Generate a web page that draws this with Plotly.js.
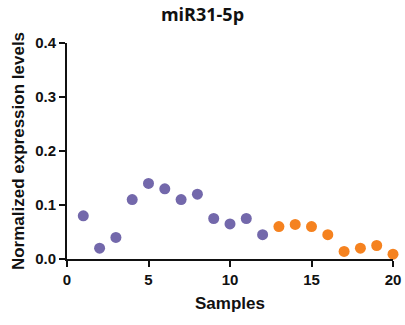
<!DOCTYPE html>
<html>
<head>
<meta charset="utf-8">
<script src="https://cdn.plot.ly/plotly-3.0.1.min.js"></script>
<style>html,body{margin:0;padding:0;background:#fff;}#chart{width:405px;height:325px;}</style>
</head>
<body>
<div id="chart"></div>
<script>
var samplesA = [1,2,3,4,5,6,7,8,9,10,11,12];
var valuesA = [0.080,0.020,0.040,0.110,0.140,0.130,0.110,0.120,0.075,0.065,0.075,0.045];
var samplesB = [13,14,15,16,17,18,19,20];
var valuesB = [0.060,0.064,0.060,0.045,0.014,0.020,0.025,0.009];
var xTicks = [0,5,10,15,20];
var yTicks = [0,0.1,0.2,0.3,0.4];
var yTickLabels = ['0.0','0.1','0.2','0.3','0.4'];

var arial = "'Liberation Sans', Arial, sans-serif";
var traces = [
  {x: samplesA, y: valuesA, type: 'scatter', mode: 'markers', cliponaxis: false,
   marker: {color: '#7368ab', size: 11}},
  {x: samplesB, y: valuesB, type: 'scatter', mode: 'markers', cliponaxis: false,
   marker: {color: '#f5821f', size: 11}}
];
var tickFont = {family: arial, size: 15, color: '#111', weight: 'bold'};
var layout = {
  width: 405, height: 325,
  margin: {l: 67, r: 12, t: 43, b: 66},
  paper_bgcolor: '#fff', plot_bgcolor: '#fff',
  showlegend: false,
  title: {text: '<b>miR31-5p</b>', x: 0.5, xanchor: 'center', y: 0.955, yanchor: 'middle',
          font: {family: "'Open Sans', sans-serif", size: 18, color: '#111'}},
  xaxis: {range: [0, 20], tickvals: xTicks, ticktext: xTicks.map(function(v){return '<b>'+v+'</b>';}),
          showline: true, linecolor: '#111', linewidth: 2, ticks: 'outside', ticklen: 6,
          tickwidth: 2, tickcolor: '#111', showgrid: false, zeroline: false,
          tickfont: tickFont,
          title: {text: '<b>Samples</b>', standoff: 10,
                  font: {family: arial, size: 17, color: '#111'}}},
  yaxis: {range: [0, 0.4], tickvals: yTicks, ticktext: yTickLabels.map(function(s){return '<b>'+s+'</b>';}),
          showline: true, linecolor: '#111', linewidth: 2, ticks: 'outside', ticklen: 6,
          tickwidth: 2, tickcolor: '#111', showgrid: false, zeroline: false,
          tickfont: tickFont,
          title: {text: '<b>Normalized expression levels</b>', standoff: 6,
                  font: {family: arial, size: 17, color: '#111'}}}
};
Plotly.newPlot('chart', traces, layout, {displayModeBar: false, staticPlot: true});
</script>
</body>
</html>
